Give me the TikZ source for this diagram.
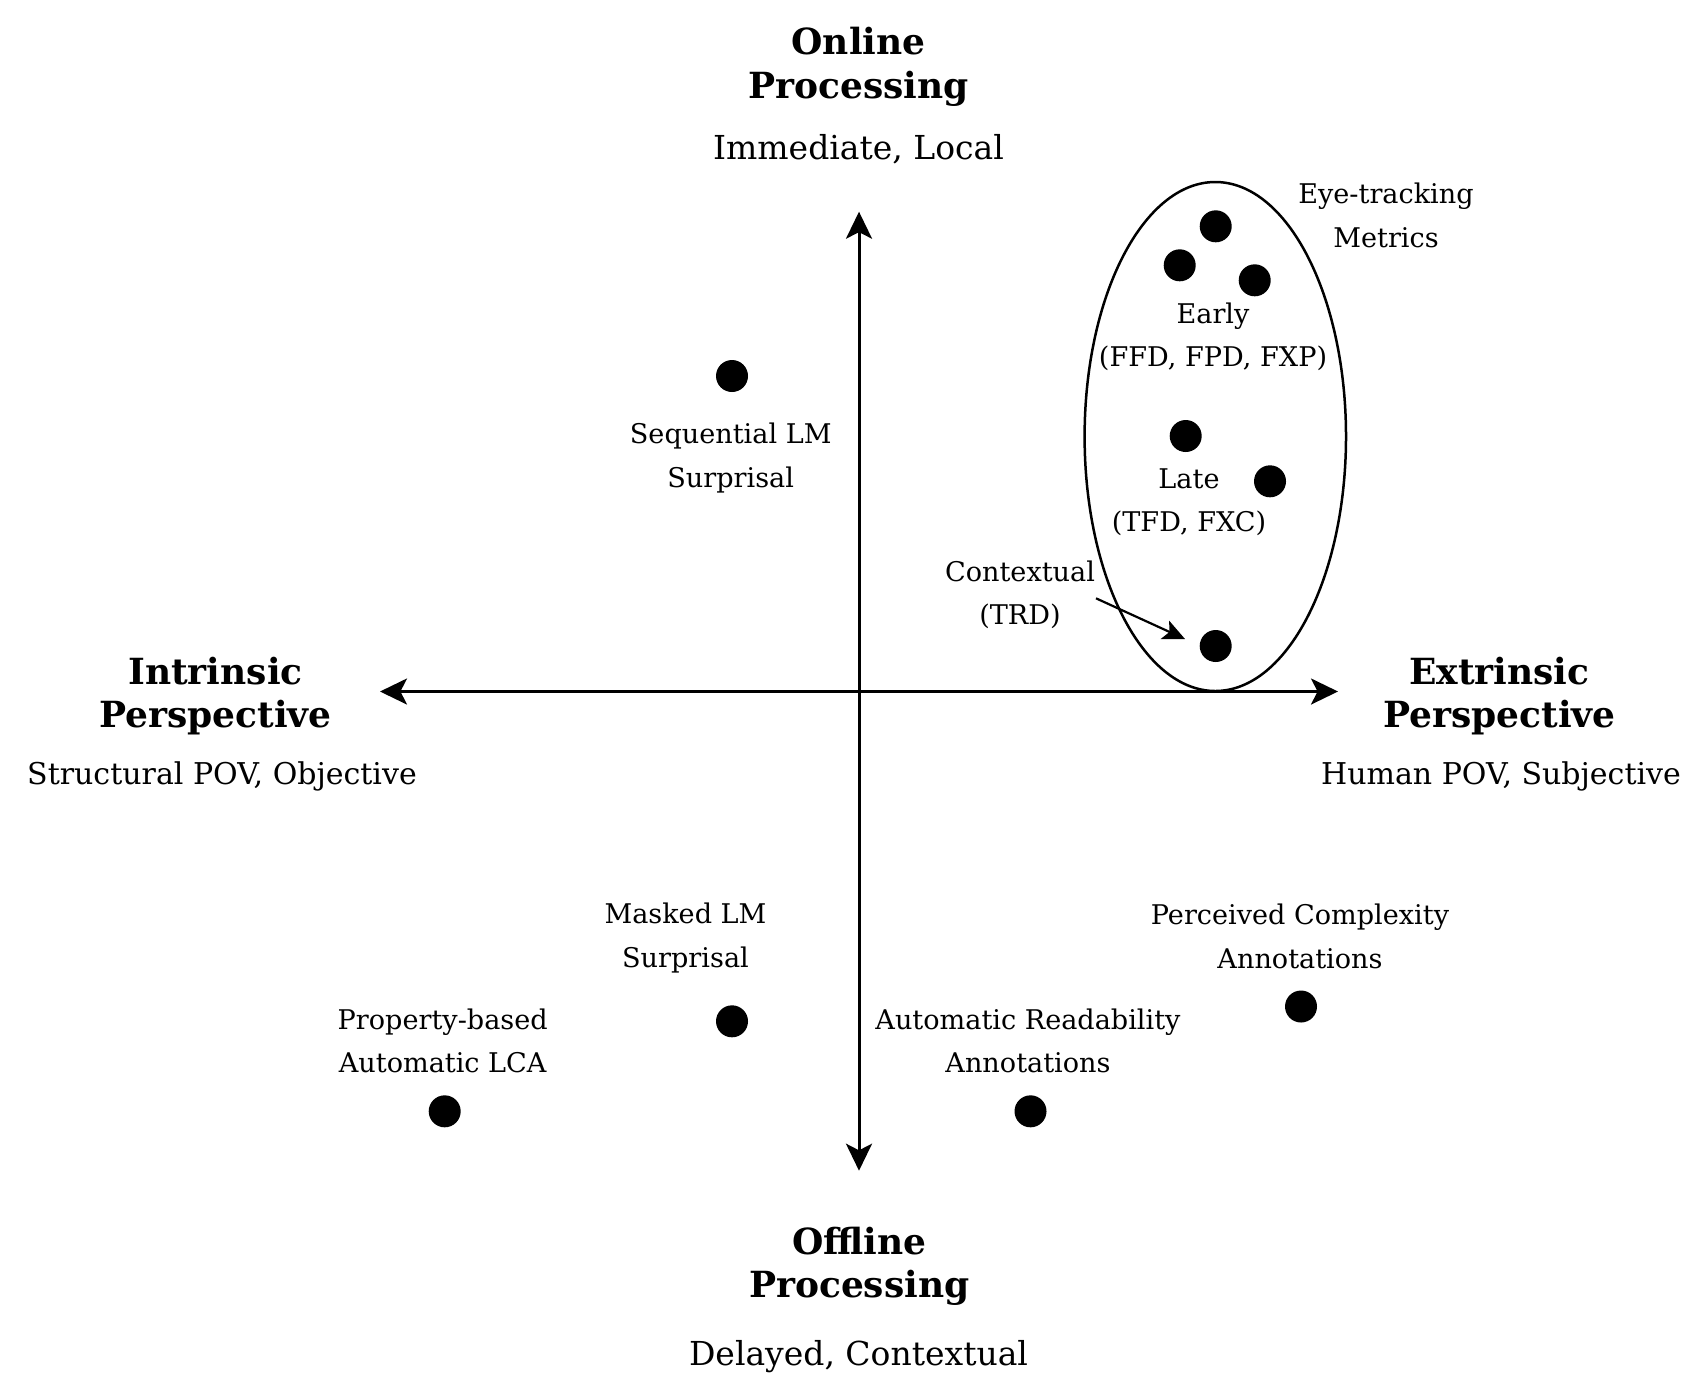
\documentclass[tikz,border=0pt]{standalone}
\usepackage{fontspec}
\setmainfont{DejaVu Serif}
\usetikzlibrary{arrows.meta,shapes.geometric}
\begin{document}
\begin{tikzpicture}[x=0.5pt,y=-0.5pt,
 dot/.style={circle,fill=black,inner sep=0pt,minimum size=16pt},
 lbl/.style={align=center,font=\fontsize{13.55}{21.75}\selectfont,inner sep=0pt},
 ttl/.style={align=center,font=\fontsize{18}{21.7}\selectfont\bfseries,inner sep=0pt},
 subt/.style={anchor=base,font=\fontsize{16.5}{20}\selectfont,inner sep=0pt},
 subh/.style={anchor=base,font=\fontsize{15}{18}\selectfont,inner sep=0pt},
 axisline/.style={line width=1.5pt,{Stealth[length=13.5pt,width=13pt,inset=3.3pt]}-{Stealth[length=13.5pt,width=13pt,inset=3.3pt]}},
 pointer/.style={line width=1.1pt,-{Stealth[length=11pt,width=10pt,inset=2.5pt]}}
]
\useasboundingbox (0,0) rectangle (1695,1383);
% axes
\coordinate (top) at (859,211.7);
\coordinate (bottom) at (859,1170.7);
\coordinate (left) at (380,691.5);
\coordinate (right) at (1338,691.5);
\draw[axisline] (left) -- (right);
\draw[axisline] (bottom) -- (top);
% titles
\node[ttl] (online) at (858.5,66.8) {Online\\Processing};
\node[subt] (onlinesub) at (858.5,159.3) {Immediate, Local};
\node[ttl] (intr) at (215.5,696) {Intrinsic\\Perspective};
\node[subh] (intrsub) at (222,784) {Structural POV, Objective};
\node[ttl] (extr) at (1499.3,696) {Extrinsic\\Perspective};
\node[subh] (extrsub) at (1501,784) {Human POV, Subjective};
\node[ttl] (offline) at (859.3,1266) {Offline\\Processing};
\node[subt] (offlinesub) at (858.5,1365) {Delayed, Contextual};
% eye-tracking group
\node[draw,ellipse,line width=1.25pt,minimum width=130.7pt,minimum height=254.5pt,inner sep=0pt] (eyegroup) at (1215.3,436.5) {};
\node[lbl] (eyelbl) at (1386,215.2) {Eye-tracking\\Metrics};
\node[dot] (e1) at (1215.7,226.3) {};
\node[dot] (e2) at (1179.7,265.3) {};
\node[dot] (e3) at (1254.7,280.3) {};
\node[lbl] (earlylbl) at (1213,336.8) {Early\\(FFD, FPD, FXP)};
\node[dot] (l1) at (1185.7,436) {};
\node[dot] (l2) at (1270,481.3) {};
\node[lbl] (latelbl) at (1189,502) {Late\\(TFD, FXC)};
\node[dot] (ctx) at (1215.7,646) {};
\node[lbl] (ctxlbl) at (1020,594.8) {Contextual\\(TRD)};
\coordinate (ctxfrom) at (1096,598.3);
\coordinate (ctxto) at (1185,639);
\draw[pointer] (ctxfrom) -- (ctxto);
% other measures
\node[dot] (seq) at (732,376) {};
\node[lbl] (seqlbl) at (730.7,457.8) {Sequential LM\\Surprisal};
\node[dot] (mask) at (732,1021.3) {};
\node[lbl] (masklbl) at (685.5,937.8) {Masked LM\\Surprisal};
\node[dot] (prop) at (444.7,1111.3) {};
\node[lbl] (proplbl) at (442.7,1041) {Property-based\\Automatic LCA};
\node[dot] (perc) at (1301,1006.5) {};
\node[lbl] (perclbl) at (1300,936.5) {Perceived Complexity\\Annotations};
\node[dot] (read) at (1030.5,1111.3) {};
\node[lbl] (readlbl) at (1028,1041) {Automatic Readability\\Annotations};
\end{tikzpicture}
\end{document}
